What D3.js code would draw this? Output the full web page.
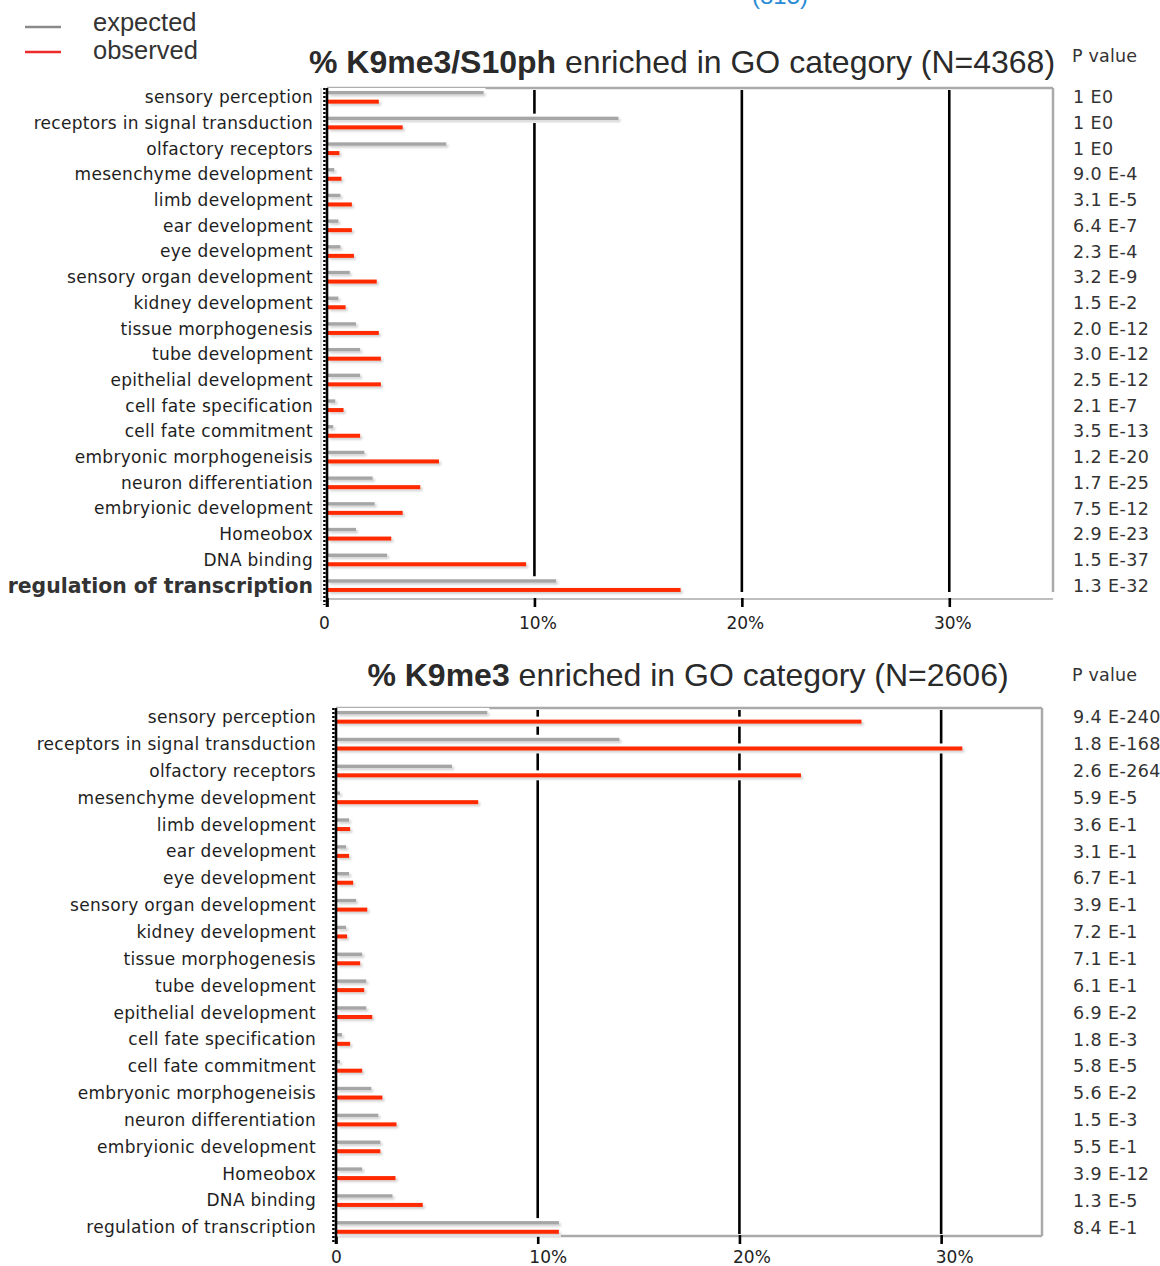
<!DOCTYPE html>
<html>
  <head>
    <meta charset="utf-8">
    <title>K9me3 GO category enrichment</title>
    <script src="https://d3js.org/d3.v7.min.js"></script>
    <style>
      body { margin: 0; background: #fff; }
      svg { display: block; }
    </style>
  </head>
  <body>
    <div id="chart"></div>
    <script>
      // GO categories, top to bottom
      var categories = [
        "sensory perception",
        "receptors in signal transduction",
        "olfactory receptors",
        "mesenchyme development",
        "limb development",
        "ear development",
        "eye development",
        "sensory organ development",
        "kidney development",
        "tissue morphogenesis",
        "tube development",
        "epithelial development",
        "cell fate specification",
        "cell fate commitment",
        "embryonic morphogeneisis",
        "neuron differentiation",
        "embryionic development",
        "Homeobox",
        "DNA binding",
        "regulation of transcription"
      ];

      // % K9me3/S10ph (N=4368)
      var expectedTop = [7.5, 14.0, 5.7, 0.3, 0.6, 0.5, 0.6, 1.05, 0.5, 1.35, 1.55, 1.55, 0.35, 0.25, 1.75, 2.15, 2.25, 1.35, 2.85, 11.0];
      var observedTop = [2.45, 3.6, 0.55, 0.65, 1.15, 1.15, 1.25, 2.35, 0.85, 2.45, 2.55, 2.55, 0.75, 1.55, 5.35, 4.45, 3.6, 3.05, 9.55, 17.0];
      var pValuesTop = ["1 E0", "1 E0", "1 E0", "9.0 E-4", "3.1 E-5", "6.4 E-7", "2.3 E-4", "3.2 E-9", "1.5 E-2", "2.0 E-12",
                        "3.0 E-12", "2.5 E-12", "2.1 E-7", "3.5 E-13", "1.2 E-20", "1.7 E-25", "7.5 E-12", "2.9 E-23", "1.5 E-37", "1.3 E-32"];

      // % K9me3 (N=2606)
      var expectedBottom = [7.45, 14.0, 5.7, 0.15, 0.6, 0.45, 0.6, 0.95, 0.45, 1.25, 1.45, 1.45, 0.25, 0.15, 1.7, 2.05, 2.15, 1.25, 2.75, 11.0];
      var observedBottom = [26.0, 31.0, 23.0, 7.0, 0.65, 0.6, 0.8, 1.5, 0.5, 1.15, 1.35, 1.75, 0.65, 1.25, 2.25, 2.95, 2.15, 2.9, 4.25, 11.0];
      var pValuesBottom = ["9.4 E-240", "1.8 E-168", "2.6 E-264", "5.9 E-5", "3.6 E-1", "3.1 E-1", "6.7 E-1", "3.9 E-1", "7.2 E-1", "7.1 E-1",
                           "6.1 E-1", "6.9 E-2", "1.8 E-3", "5.8 E-5", "5.6 E-2", "1.5 E-3", "5.5 E-1", "3.9 E-12", "1.3 E-5", "8.4 E-1"];

      var xTicks = [0, 10, 20, 30];
      var xTickLabels = ["0", "10%", "20%", "30%"];
      var legendLabels = ["expected", "observed"];

      var GRAY = "#a6a6a6";
      var RED = "#ff2a00";
      var labelFont = "'DejaVu Sans', Verdana, sans-serif";
      var titleFont = "'Liberation Sans', Arial, Helvetica, sans-serif";

      var svg = d3.select("#chart").append("svg")
        .attr("width", 1160)
        .attr("height", 1266);

      var defs = svg.append("defs");
      defs.append("filter")
        .attr("id", "shadow")
        .attr("x", "-5%").attr("y", "-100%")
        .attr("width", "120%").attr("height", "400%")
        .append("feDropShadow")
        .attr("dx", 2).attr("dy", 2)
        .attr("stdDeviation", 1)
        .attr("flood-color", "#000")
        .attr("flood-opacity", 0.18);

      // cut-off caption at the very top
      svg.append("text")
        .attr("x", 780).attr("y", 4)
        .attr("text-anchor", "middle")
        .attr("font-family", titleFont)
        .attr("font-size", "24px")
        .attr("fill", "#2a8bd6")
        .text("(815)");

      // legend
      var legend = svg.append("g");
      legend.selectAll("line")
        .data(legendLabels)
        .enter()
        .append("line")
        .attr("x1", 25).attr("x2", 61)
        .attr("y1", (d, i) => 27 + i * 25)
        .attr("y2", (d, i) => 27 + i * 25)
        .attr("stroke", (d, i) => i === 0 ? "#8a8a8a" : "#ee2b2b")
        .attr("stroke-width", 2.5);
      legend.selectAll("text")
        .data(legendLabels)
        .enter()
        .append("text")
        .attr("x", 93)
        .attr("y", (d, i) => 22 + i * 28)
        .attr("dy", "0.35em")
        .attr("font-family", titleFont)
        .attr("font-size", "25.5px")
        .attr("fill", "#333")
        .text((d) => d);

      function drawPanel(opt) {
        var g = svg.append("g");

        var x = d3.scaleLinear().domain([0, 35]).range([opt.left, opt.right]);
        var y = d3.scaleBand().domain(categories).range([opt.bandTop, opt.bandBottom]).padding(0);
        var mid = (d) => y(d) + y.bandwidth() / 2;
        var isBold = (i) => opt.boldLast && i === categories.length - 1;

        var rows = categories.map((c, i) => ({
          cat: c,
          expected: opt.expected[i],
          observed: opt.observed[i],
          p: opt.pValues[i]
        }));

        // title
        var title = g.append("text")
          .attr("x", opt.titleX)
          .attr("y", opt.titleY)
          .attr("text-anchor", "middle")
          .attr("font-family", titleFont)
          .attr("font-size", "32px")
          .attr("fill", "#2a2a2a");
        title.append("tspan").attr("font-weight", "bold").text(opt.titleBold);
        title.append("tspan").text(opt.titleRest);

        // P value header
        g.append("text")
          .attr("x", 1072)
          .attr("y", opt.pHeaderY)
          .attr("dy", "0.35em")
          .attr("font-family", labelFont)
          .attr("font-size", "17.5px")
          .attr("letter-spacing", "0.2px")
          .attr("fill", "#333")
          .text("P value");

        // grid lines
        g.append("g")
          .selectAll("line")
          .data(xTicks.slice(1))
          .enter()
          .append("line")
          .attr("x1", (d) => x(d)).attr("x2", (d) => x(d))
          .attr("y1", opt.top + 2).attr("y2", opt.gridBottom)
          .attr("stroke", "#000")
          .attr("stroke-width", 2.6);

        // frame (gray, top + right + bottom)
        g.append("line")
          .attr("x1", opt.left).attr("x2", opt.right)
          .attr("y1", opt.top).attr("y2", opt.top)
          .attr("stroke", "#aaa").attr("stroke-width", 2.5);
        g.append("line")
          .attr("x1", opt.right).attr("x2", opt.right)
          .attr("y1", opt.top).attr("y2", opt.rightBottom)
          .attr("stroke", "#aaa").attr("stroke-width", 2.5);
        g.append("line")
          .attr("x1", opt.left).attr("x2", opt.right)
          .attr("y1", opt.bottom).attr("y2", opt.bottom)
          .attr("stroke", "#aaa").attr("stroke-width", opt.bottomWidth);
        if (opt.leftThin) {
          g.append("line")
            .attr("x1", opt.left - 6).attr("x2", opt.left - 6)
            .attr("y1", opt.top).attr("y2", opt.bottom + 2)
            .attr("stroke", "#c4c4c4").attr("stroke-width", 1);
        }

        // x axis ticks + labels
        var xAxis = d3.axisBottom(x)
          .tickValues(xTicks)
          .tickFormat((d, i) => xTickLabels[i])
          .tickSize(9)
          .tickPadding(opt.tickPad);
        var ax = g.append("g")
          .attr("transform", "translate(0," + (opt.bottom - 1) + ")")
          .call(xAxis);
        ax.select(".domain").remove();
        ax.selectAll(".tick line").attr("stroke", "#000").attr("stroke-width", 2.6);
        ax.selectAll(".tick text")
          .attr("dx", (d, i) => opt.tickDx[i])
          .attr("font-family", labelFont)
          .attr("font-size", "17px")
          .attr("fill", "#222");

        // bars: white halo, then bar with soft shadow
        var bars = g.append("g");
        var series = [
          { key: "expected", color: GRAY, off: -4.6, h: 3.4 },
          { key: "observed", color: RED, off: 4.4, h: 4 }
        ];
        series.forEach((s) => {
          bars.append("g")
            .selectAll("rect")
            .data(rows)
            .enter()
            .append("rect")
            .attr("x", x(0))
            .attr("y", (d) => mid(d.cat) + s.off - s.h / 2 - 3)
            .attr("width", (d) => x(d[s.key]) - x(0) + 3)
            .attr("height", s.h + 6)
            .attr("fill", "#fff");
        });
        series.forEach((s) => {
          bars.append("g")
            .attr("filter", "url(#shadow)")
            .selectAll("rect")
            .data(rows)
            .enter()
            .append("rect")
            .attr("x", x(0) + 1)
            .attr("y", (d) => mid(d.cat) + s.off - s.h / 2)
            .attr("width", (d) => x(d[s.key]) - x(0))
            .attr("height", s.h)
            .attr("fill", s.color);
        });

        // y axis: heavy black line with tiny notches
        var yAxis = d3.axisLeft(y).tickSize(0).tickFormat("");
        var ay = g.append("g")
          .attr("transform", "translate(" + x(0) + ",0)")
          .call(yAxis);
        ay.select(".domain")
          .attr("d", "M0," + (opt.top) + "V" + (opt.bottom + 8))
          .attr("stroke", "#000")
          .attr("stroke-width", 2.6);
        g.append("line")
          .attr("x1", x(0) - 2.6).attr("x2", x(0) - 2.6)
          .attr("y1", opt.top).attr("y2", opt.bottom + 6)
          .attr("stroke", "#000")
          .attr("stroke-width", 2.4)
          .attr("stroke-dasharray", "2,2");

        // category labels
        g.append("g")
          .selectAll("text")
          .data(rows)
          .enter()
          .append("text")
          .attr("x", opt.labelRight)
          .attr("y", (d) => mid(d.cat))
          .attr("dy", "0.35em")
          .attr("text-anchor", "end")
          .attr("font-family", labelFont)
          .attr("font-size", (d, i) => isBold(i) ? "20.4px" : "17px")
          .attr("letter-spacing", (d, i) => isBold(i) ? "0px" : "0.3px")
          .attr("font-weight", (d, i) => isBold(i) ? "bold" : "normal")
          .attr("fill", (d, i) => isBold(i) ? "#333" : "#1e1e1e")
          .text((d) => d.cat);

        // p values
        g.append("g")
          .selectAll("text")
          .data(rows)
          .enter()
          .append("text")
          .attr("x", 1073)
          .attr("y", (d) => mid(d.cat))
          .attr("dy", "0.35em")
          .attr("font-family", labelFont)
          .attr("font-size", "17.5px")
          .attr("letter-spacing", "0.4px")
          .attr("fill", "#333")
          .text((d) => d.p);
      }

      drawPanel({
        expected: expectedTop,
        observed: observedTop,
        pValues: pValuesTop,
        titleBold: "% K9me3/S10ph",
        titleRest: " enriched in GO category (N=4368)",
        titleX: 682, titleY: 73,
        pHeaderY: 56,
        left: 327, right: 1053,
        top: 88, bottom: 599,
        bandTop: 84.4, bandBottom: 598.4,
        gridBottom: 592, rightBottom: 592,
        bottomWidth: 1.5,
        leftThin: true,
        labelRight: 313,
        tickDx: [-3, 3, 3, 3],
        tickPad: 10,
        boldLast: true
      });

      drawPanel({
        expected: expectedBottom,
        observed: observedBottom,
        pValues: pValuesBottom,
        titleBold: "% K9me3",
        titleRest: " enriched in GO category (N=2606)",
        titleX: 688, titleY: 686,
        pHeaderY: 675,
        left: 336, right: 1042,
        top: 708, bottom: 1236,
        bandTop: 703.8, bandBottom: 1240.8,
        gridBottom: 1234, rightBottom: 1236,
        bottomWidth: 2.5,
        leftThin: false,
        labelRight: 316,
        tickDx: [0, 10, 12, 13],
        tickPad: 7,
        boldLast: false
      });
    </script>
  </body>
</html>
